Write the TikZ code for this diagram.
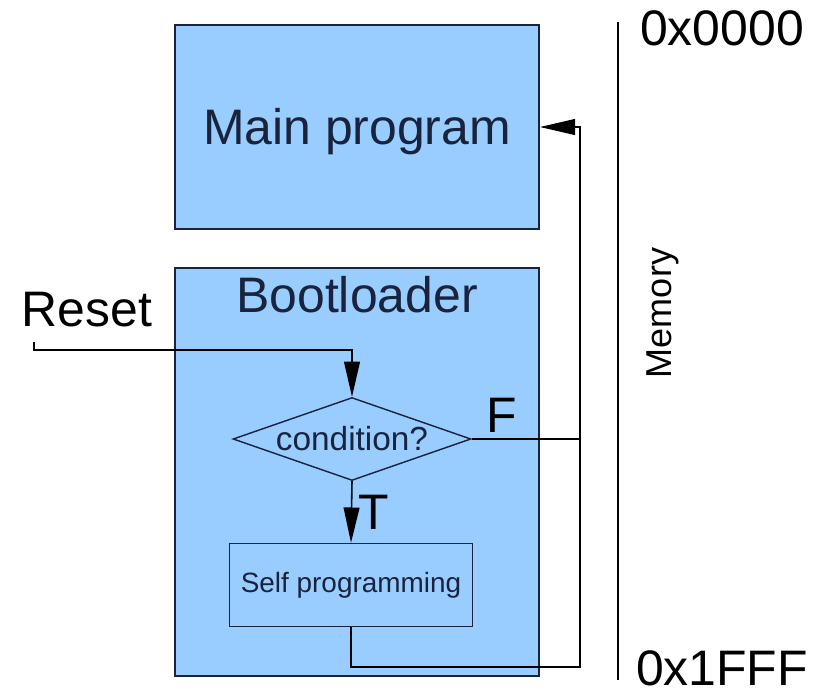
\documentclass[tikz,border=0pt]{standalone}
\usepackage{fontspec}
\setmainfont{Liberation Sans}
\usetikzlibrary{shapes.geometric,arrows.meta}

\definecolor{memblue}{RGB}{153,204,255}
\definecolor{boxline}{RGB}{25,35,60}

\begin{document}
\begin{tikzpicture}
[
  x=0.02cm, y=-0.02cm,
  >={Triangle[length=20pt,width=9pt]},
  block/.style = {draw=boxline, line width=1.1pt, fill=memblue, inner sep=0pt},
  big/.style = {font=\fontsize{28.4}{34}\selectfont},
  flow/.style = {draw, line width=0.9pt},
]
\useasboundingbox (0,0) rectangle (819,694);

\node (main) at (357,127) [block, big, text=boxline, text height=20.3pt, text depth=0pt,
  minimum width=7.28cm, minimum height=4.08cm] {Main program};
\node (boot) at (357,472) [block, minimum width=7.28cm, minimum height=8.16cm] {};
\node (bootlabel) at (357,295) [big, text=boxline] {Bootloader};

\node (cond) at (352,439) [diamond, draw=boxline, line width=0.8pt, inner sep=0pt,
  minimum width=4.76cm, minimum height=1.66cm,
  label={[font=\fontsize{19}{23}\selectfont, text=boxline]center:condition?}] {};
\node (selfprog) at (351,585) [draw=boxline, line width=1pt, minimum width=4.86cm, minimum height=1.66cm,
  font=\fontsize{15.9}{19}\selectfont, text=boxline] {Self programming};

\node (reset) at (87,310) [big] {Reset};
\coordinate (rst) at (34,342);
\coordinate (rstbend) at (352,350);
\coordinate (railbot) at (580,667);

\draw[flow,->] (rst) |- (rstbend) -- (cond.north);
\draw[flow,->] (cond.south) -- node[big, right] {T} (selfprog.north);
\draw[flow] (cond.east) -- node[big, above, pos=0.28] {F} (cond.east -| railbot);
\draw[flow,->] (selfprog.south) |- (railbot) |- (main.east);

% memory axis
\coordinate (memtop) at (618,22);
\coordinate (membot) at (618,680);
\draw[line width=0.9pt] (memtop) -- (membot);
\node (lowaddr) at (722,28) [big] {0x0000};
\node (highaddr) at (722,668) [big] {0x1FFF};
\node (memlabel) at (663,313) [rotate=90, font=\fontsize{20.5}{24}\selectfont] {Memory};

\end{tikzpicture}
\end{document}
